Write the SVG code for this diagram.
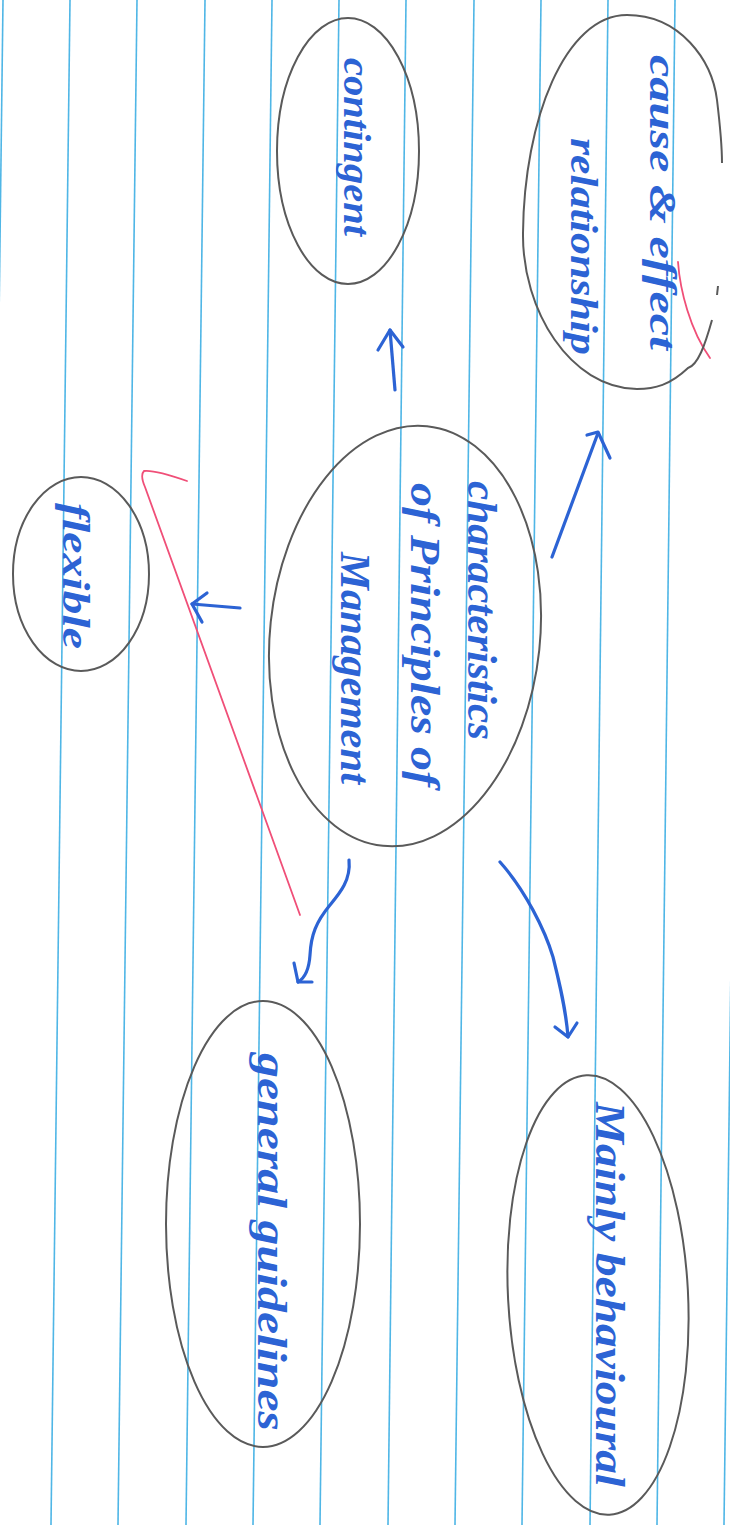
<svg xmlns="http://www.w3.org/2000/svg" width="730" height="1525" viewBox="0 0 730 1525">
<defs>
<style>
.rule{stroke:#4fb6e6;stroke-width:1.6;fill:none}
.oval{fill:none;stroke:#5a5a5a;stroke-width:2}
.ink{fill:#2c63d4;font-family:"Liberation Serif",serif;font-style:italic;font-weight:bold;font-size:42px}
.sm{font-size:38px}
.arr{fill:none;stroke:#2c63d4;stroke-width:3.2;stroke-linecap:round;stroke-linejoin:round}
.red{fill:none;stroke:#f04f78;stroke-width:1.8;stroke-linecap:round;stroke-linejoin:round}
</style>
</defs>
<rect width="730" height="1525" fill="#ffffff"/>
<g id="paper-lines">
<line class="rule" x1="3" y1="0" x2="-16" y2="1525"/>
<line class="rule" x1="70" y1="0" x2="51" y2="1525"/>
<line class="rule" x1="137" y1="0" x2="118" y2="1525"/>
<line class="rule" x1="205" y1="0" x2="186" y2="1525"/>
<line class="rule" x1="272" y1="0" x2="253" y2="1525"/>
<line class="rule" x1="339" y1="0" x2="320" y2="1525"/>
<line class="rule" x1="406" y1="0" x2="388" y2="1525"/>
<line class="rule" x1="474" y1="0" x2="455" y2="1525"/>
<line class="rule" x1="541" y1="0" x2="522" y2="1525"/>
<line class="rule" x1="608" y1="0" x2="590" y2="1525"/>
<line class="rule" x1="675" y1="0" x2="657" y2="1525"/>
<line class="rule" x1="743" y1="0" x2="724" y2="1525"/>
</g>
<g id="connectors">
<path class="arr" d="M552,557 L598,433"/>
<path class="arr" d="M587,435 L598,432 L610,458"/>
<path class="arr" d="M395,390 L390,330"/>
<path class="arr" d="M378,350 L390,330 L403,347"/>
<path class="arr" d="M240,608 L192,604"/>
<path class="arr" d="M207,593 L192,604 L202,622"/>
<path class="arr" d="M349,860 C351,880 340,893 330,905 C316,922 311,935 310,955 C309,970 305,978 298,982"/>
<path class="arr" d="M294,963 L298,982 L312,982"/>
<path class="arr" d="M500,862 C525,890 545,930 553,957 C560,985 566,1010 568,1037"/>
<path class="arr" d="M555,1027 L568,1037 L577,1023"/>
</g>
<g id="red-marks">
<path class="red" d="M187,481 C170,475 152,470 144,471 C141,474 142,480 145,487 L300,915"/>
<path class="red" d="M678,262 C680,290 690,330 710,358"/>
</g>
<g id="node-center">
<ellipse class="oval" cx="405" cy="636" rx="135" ry="211" transform="rotate(6 405 636)"/>
<text class="ink" transform="translate(468,481) rotate(90)" textLength="259" lengthAdjust="spacingAndGlyphs">characteristics</text>
<text class="ink" transform="translate(411,483) rotate(90)" textLength="304" lengthAdjust="spacingAndGlyphs">of Principles of</text>
<text class="ink" transform="translate(341,552) rotate(90)" textLength="232" lengthAdjust="spacingAndGlyphs">Management</text>
</g>
<g id="node-cause">
<path class="oval" d="M712,320 C705,345 698,365 688,368 C670,385 655,389 637,389 C570,388 522,310 523,233 C524,120 565,15 627,15 C680,15 712,60 717,100 C720,125 722,145 722,163"/>
<path class="oval" d="M718,286 L717,295"/>
<text class="ink sm" transform="translate(650,55) rotate(90)" textLength="295" lengthAdjust="spacingAndGlyphs">cause &amp; effect</text>
<text class="ink sm" transform="translate(571,138) rotate(90)" textLength="217" lengthAdjust="spacingAndGlyphs">relationship</text>
</g>
<g id="node-contingent">
<ellipse class="oval" cx="348" cy="151" rx="71" ry="133"/>
<text class="ink sm" transform="translate(344,58) rotate(90)" textLength="178" lengthAdjust="spacingAndGlyphs">contingent</text>
</g>
<g id="node-flexible">
<ellipse class="oval" cx="81" cy="574" rx="68" ry="97"/>
<text class="ink sm" transform="translate(63,503) rotate(90)" textLength="146" lengthAdjust="spacingAndGlyphs">flexible</text>
</g>
<g id="node-general">
<ellipse class="oval" cx="263" cy="1224" rx="97" ry="223"/>
<text class="ink" transform="translate(258,1053) rotate(90)" textLength="378" lengthAdjust="spacingAndGlyphs">general guidelines</text>
</g>
<g id="node-mainly">
<ellipse class="oval" cx="598" cy="1295" rx="90" ry="220" transform="rotate(-3 598 1295)"/>
<text class="ink" transform="translate(596,1102) rotate(90)" textLength="385" lengthAdjust="spacingAndGlyphs">Mainly behavioural</text>
</g>
</svg>
